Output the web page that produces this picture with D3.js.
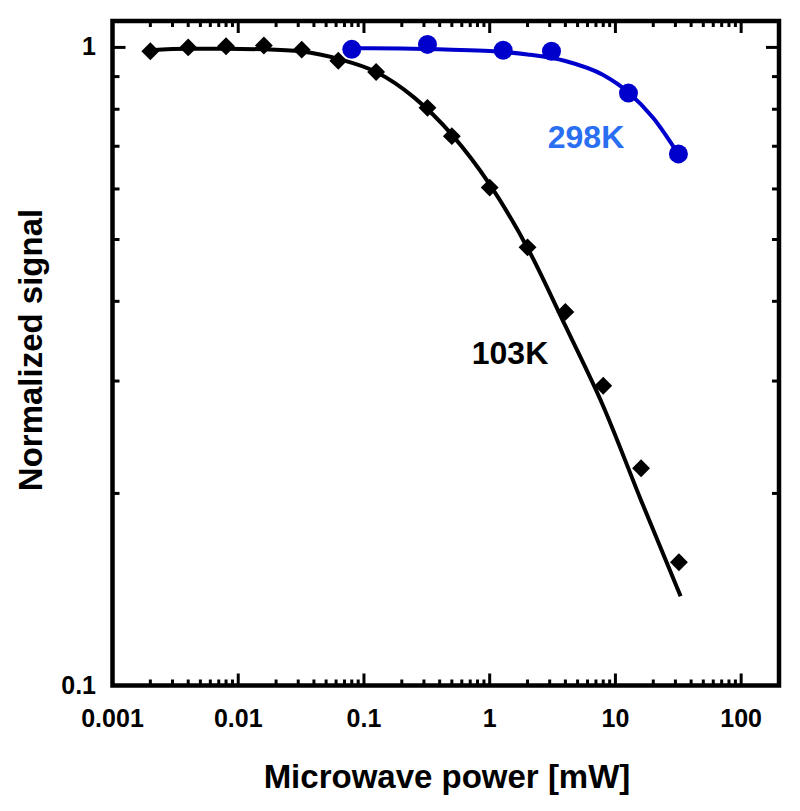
<!DOCTYPE html>
<html>
<head>
<meta charset="utf-8">
<script src="https://cdn.jsdelivr.net/npm/d3@7"></script>
<style>
  body { margin: 0; background: #fff; }
  text { font-family: "Liberation Sans", Arial, sans-serif; font-weight: bold; }
</style>
</head>
<body>
<svg id="chart" width="800" height="811"></svg>
<script>
// ---- data ----
const powers103 = [0.002, 0.004, 0.008, 0.016, 0.032, 0.0625, 0.125, 0.32, 0.5, 1, 2, 4, 8, 16, 32];
const signal103 = [0.986, 1.0, 1.004, 1.007, 0.992, 0.953, 0.915, 0.804, 0.726, 0.603, 0.486, 0.385, 0.295, 0.219, 0.156];
const fitX103 = [0.002, 0.004, 0.008, 0.016, 0.032, 0.064, 0.125, 0.25, 0.5, 1, 2, 4, 8, 16, 33];
const fitY103 = [0.99, 0.995, 0.995, 0.993, 0.985, 0.958, 0.915, 0.835, 0.73, 0.61, 0.485, 0.366, 0.274, 0.195, 0.138];

const powers298 = [0.08, 0.32, 1.28, 3.1, 12.7, 31.7];
const signal298 = [0.993, 1.011, 0.99, 0.986, 0.848, 0.681];
const fitX298 = [0.08, 0.2, 0.5, 1, 2, 4, 8, 12.7, 20, 31.7];
const fitY298 = [0.997, 0.996, 0.992, 0.987, 0.975, 0.952, 0.905, 0.85, 0.775, 0.68];

const xMajorTicks = [0.001, 0.01, 0.1, 1, 10, 100];
const xTickLabels = ["0.001", "0.01", "0.1", "1", "10", "100"];
const yMajorTicks = [0.1, 1];
const yTickLabels = ["0.1", "1"];
const xTitle = "Microwave power [mW]";
const yTitle = "Normalized signal";
const seriesLabels = ["103K", "298K"];

// ---- layout ----
const svg = d3.select("#chart");
const pL = 112.5, pR = 779, pT = 21, pB = 685.5;
const x = d3.scaleLog().domain([0.001, 200]).range([pL, pR]);
const y = d3.scaleLog().domain([0.1, 1.1]).range([pB, pT]);

// minor ticks
const xMinor = [];
for (let e = -3; e <= 2; e++) for (let k = 2; k <= 9; k++) { const v = k * Math.pow(10, e); if (v < 200) xMinor.push(v); }
const yMinor = [0.2, 0.3, 0.4, 0.5, 0.6, 0.7, 0.8, 0.9];

const tickG = svg.append("g").attr("stroke", "#000").attr("stroke-width", 3);
function xTicks(vals, len) {
  vals.forEach(v => {
    tickG.append("line").attr("x1", x(v)).attr("x2", x(v)).attr("y1", pB).attr("y2", pB - len);
    tickG.append("line").attr("x1", x(v)).attr("x2", x(v)).attr("y1", pT).attr("y2", pT + len);
  });
}
function yTicks(vals, len) {
  vals.forEach(v => {
    tickG.append("line").attr("y1", y(v)).attr("y2", y(v)).attr("x1", pL).attr("x2", pL + len);
    tickG.append("line").attr("y1", y(v)).attr("y2", y(v)).attr("x1", pR).attr("x2", pR - len);
  });
}
xTicks(xMinor, 6);
xTicks(xMajorTicks, 12);
yTicks(yMinor, 7);
yTicks(yMajorTicks, 13);

// frame
svg.append("rect").attr("x", pL).attr("y", pT).attr("width", pR - pL).attr("height", pB - pT)
  .attr("fill", "none").attr("stroke", "#000").attr("stroke-width", 4.5);

// tick labels
svg.selectAll(".xl").data(xMajorTicks).enter().append("text")
  .attr("x", d => x(d)).attr("y", 727).attr("text-anchor", "middle")
  .attr("font-size", 25).text((d, i) => xTickLabels[i]);
svg.selectAll(".yl").data(yMajorTicks).enter().append("text")
  .attr("x", 96).attr("y", d => y(d) + 8).attr("text-anchor", "end")
  .attr("font-size", 25).text((d, i) => yTickLabels[i]);

// axis titles
svg.append("text").attr("x", 447).attr("y", 788).attr("text-anchor", "middle")
  .attr("font-size", 33).text(xTitle);
svg.append("text").attr("transform", "translate(42,350) rotate(-90)").attr("text-anchor", "middle")
  .attr("font-size", 33).text(yTitle);

// fit lines
const line = d3.line().x(d => x(d[0])).y(d => y(d[1])).curve(d3.curveMonotoneX);
svg.append("path").datum(fitX103.map((v, i) => [v, fitY103[i]]))
  .attr("d", line).attr("fill", "none").attr("stroke", "#000").attr("stroke-width", 4);
svg.append("path").datum(fitX298.map((v, i) => [v, fitY298[i]]))
  .attr("d", line).attr("fill", "none").attr("stroke", "#0000cc").attr("stroke-width", 4);

// markers
const diamond = d3.symbol().type(d3.symbolSquare).size(160);
svg.selectAll(".dm").data(powers103.map((v, i) => [v, signal103[i]])).enter().append("path")
  .attr("d", diamond)
  .attr("transform", d => `translate(${x(d[0])},${y(d[1])}) rotate(45)`)
  .attr("fill", "#000");
svg.selectAll(".cc").data(powers298.map((v, i) => [v, signal298[i]])).enter().append("circle")
  .attr("cx", d => x(d[0])).attr("cy", d => y(d[1])).attr("r", 9.5)
  .attr("fill", "#0000cc");

// series labels
svg.append("text").attr("x", 510).attr("y", 364).attr("text-anchor", "middle")
  .attr("font-size", 32).attr("fill", "#000").text(seriesLabels[0]);
svg.append("text").attr("x", 586).attr("y", 148).attr("text-anchor", "middle")
  .attr("font-size", 32).attr("fill", "#2a6ef2").text(seriesLabels[1]);
</script>
</body>
</html>
